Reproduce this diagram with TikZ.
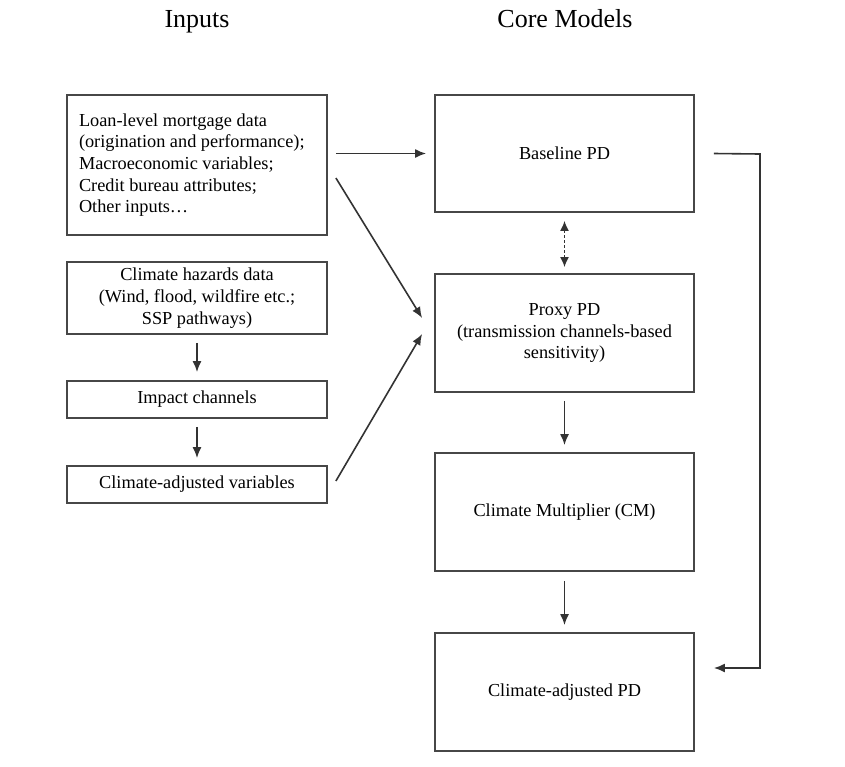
\documentclass[tikz,border=0pt]{standalone}
\usepackage{fontspec}
\setmainfont{Liberation Serif}
\usetikzlibrary{arrows.meta,calc}
\begin{document}
\begin{tikzpicture}[x=1pt,y=-1pt,
  box/.style={draw=black!72,line width=1.8pt,minimum width=260pt,inner sep=0pt,font=\fontsize{18.3}{21.7}\selectfont,align=center},
  title/.style={font=\fontsize{26}{30}\selectfont,anchor=base},
  arr/.style={draw=black!80,line width=1.6pt,-{Latex[length=11pt,width=9pt]}},
  darr/.style={draw=black!80,line width=1.5pt,dashed,dash pattern=on 3pt off 2pt,{Latex[length=10pt,width=9pt]}-{Latex[length=10pt,width=9pt]}}]
\useasboundingbox (0,0) rectangle (845,766);
\node[title] (tin) at (197,27) {Inputs};
\node[title] (tcore) at (565,27) {Core Models};
\node[box,minimum height=140pt,align=flush left,text width=236pt] (in1) at (197,165) {Loan-level mortgage data\\(origination and performance);\\Macroeconomic variables;\\Credit bureau attributes;\\Other inputs\ldots};
\node[box,minimum height=72pt] (haz) at (197,298) {Climate hazards data\\(Wind, flood, wildfire etc.;\\SSP pathways)};
\node[box,minimum height=37pt] (imp) at (197,399.5) {Impact channels};
\node[box,minimum height=37pt] (cav) at (197,484.5) {Climate-adjusted variables};
\node[box,minimum width=259pt,minimum height=117pt] (base) at (564.5,153.5) {Baseline PD};
\node[box,minimum width=259pt,minimum height=118pt] (proxy) at (564.5,333) {Proxy PD\\(transmission channels-based\\sensitivity)};
\node[box,minimum width=259pt,minimum height=118pt] (cm) at (564.5,512) {Climate Multiplier (CM)};
\node[box,minimum width=259pt,minimum height=118pt] (capd) at (564.5,692) {Climate-adjusted PD};
% arrows
\draw[arr,shorten <=8pt,shorten >=8pt] (in1.east |- base.west) -- (base.west);
\draw[arr] ($(in1.east)+(8,13)$) -- ($(proxy.west)+(-12,-15)$);
\draw[arr] ($(cav.east)+(8,-3.5)$) -- ($(proxy.west)+(-12,1)$);
\draw[darr,shorten <=8pt,shorten >=6pt] (base.south) -- (proxy.north);
\draw[arr,shorten <=8pt,shorten >=8pt] (haz.south) -- (imp.north);
\draw[arr,shorten <=8pt,shorten >=7pt] (imp.south) -- (cav.north);
\draw[arr,shorten <=8pt,shorten >=7pt] (proxy.south) -- (cm.north);
\draw[arr,shorten <=9pt,shorten >=7pt] (cm.south) -- (capd.north);
\coordinate (fb1) at (760,154);
\coordinate (fb2) at (760,668);
\draw[arr] ($(base.east)+(19,0)$) -- (fb1) -- (fb2) -- ($(capd.east |- fb2)+(19,0)$);
\end{tikzpicture}
\end{document}
